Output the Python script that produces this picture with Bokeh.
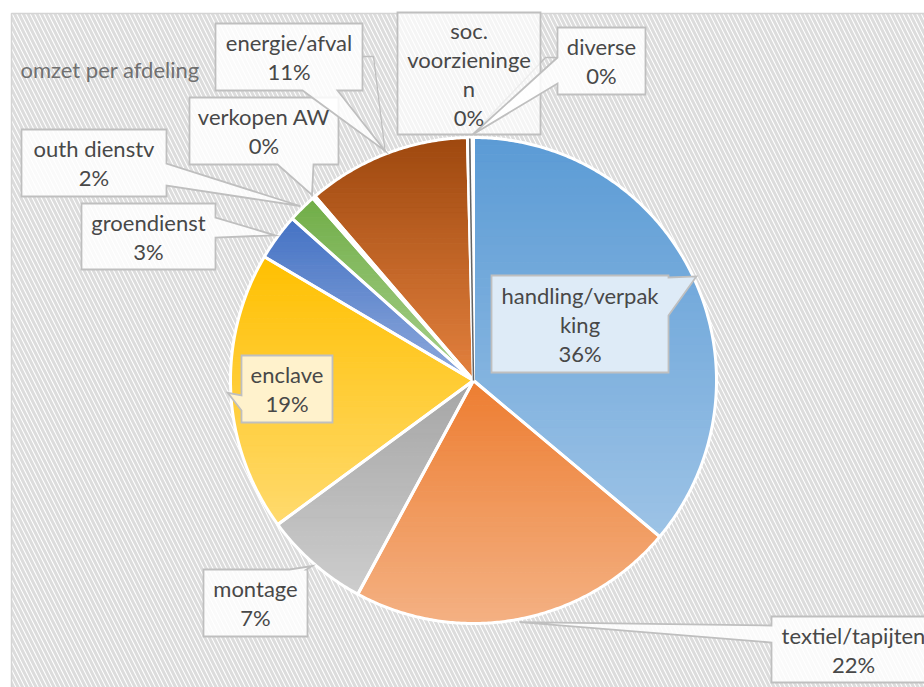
import math
from bokeh.plotting import figure
from bokeh.models import Range1d, ColumnDataSource
from bokeh.core.properties import value
from bokeh.embed import file_html
from bokeh.resources import INLINE

# ---------------- data ----------------
title_text = "omzet per afdeling"
categories = ["handling/verpakking", "textiel/tapijten", "montage", "enclave",
              "groendienst", "outh dienstv", "verkopen AW", "energie/afval",
              "soc. voorzieningen", "diverse"]
values = [36.1, 21.8, 7.0, 18.6, 3.1, 1.9, 0.2, 10.9, 0.3, 0.1]
label_lines = [["handling/verpak", "king"], ["textiel/tapijten"], ["montage"],
               ["enclave"], ["groendienst"], ["outh dienstv"], ["verkopen AW"],
               ["energie/afval"], ["soc.", "voorzieninge", "n"], ["diverse"]]
colors_top = ["#5B9BD5", "#ED7D31", "#A5A5A5", "#FFC000", "#4472C4",
              "#70AD47", "#264478", "#9E480E", "#636363", "#997300"]
colors_bottom = ["#9DC3E6", "#F4B183", "#CDCDCD", "#FFDA6E", "#8FAADC",
                 "#A9D18E", "#5B7DB8", "#E3813F", "#A0A0A0", "#C9A640"]

# ---------------- layout (pixels) ----------------
W, H = 924, 687
CX, CY, R = 473, 380, 243
TIP_R = 246
LINE_H = 29
FONT = "Lato"
FS = "22px"
TXT = "#484848"
BOX_LINE = "#bfbfbf"

# box: x0, y0, x1, y1, pointer side, base0, base1, fill, alpha, leader elbow
boxes = [
    (491, 275, 668, 372, "right", 277, 315, "#DEEBF7", 1.0, None),
    (771, 616, 940, 682, "left", 625, 642, "#FFFFFF", 0.85, None),
    (203, 569, 307, 636, "top", 289, 306, "#FFFFFF", 0.85, None),
    (241, 355, 332, 422, "left", 395, 410, "#FFF2CC", 1.0, None),
    (81, 203, 215, 269, "right", 217, 237, "#FFFFFF", 0.85, None),
    (21, 129, 166, 196, "right", 163, 185, "#FFFFFF", 0.85, None),
    (189, 97, 338, 164, "bottom", 277, 313, "#FFFFFF", 0.85, None),
    (215, 23, 362, 90, "bottom", 302, 337, "#FFFFFF", 0.85, (373, 56, 362)),
    (397, 12, 540, 134, None, 0, 0, "#FFFFFF", 0.7, None),
    (557, 27, 645, 94, "left", 57, 83, "#FFFFFF", 0.85, (545, 57, 557)),
]


def hex2rgb(h):
    h = h.lstrip("#")
    return tuple(int(h[i:i + 2], 16) for i in (0, 2, 4))


def lerp_color(a, b, t):
    ra, rb = hex2rgb(a), hex2rgb(b)
    return "#%02x%02x%02x" % tuple(int(round(ra[i] + (rb[i] - ra[i]) * t)) for i in range(3))


def pt(theta_deg, r):
    t = math.radians(theta_deg)
    return (CX + r * math.sin(t), CY - r * math.cos(t))


def clip_axis(poly, yc, keep_ge):
    out = []
    n = len(poly)
    for i in range(n):
        cur, prev = poly[i], poly[i - 1]
        cin = cur[1] >= yc if keep_ge else cur[1] <= yc
        pin = prev[1] >= yc if keep_ge else prev[1] <= yc
        if cin != pin:
            t = (yc - prev[1]) / (cur[1] - prev[1])
            out.append((prev[0] + t * (cur[0] - prev[0]), yc))
        if cin:
            out.append(cur)
    return out


total = sum(values)
fracs = [v / total for v in values]
starts, ends = [], []
acc = 0.0
for f in fracs:
    starts.append(acc * 360.0)
    acc += f
    ends.append(acc * 360.0)

p = figure(width=W, height=H, x_range=Range1d(0, W), y_range=Range1d(H, 0),
           output_backend="svg", toolbar_location=None, min_border=0)
p.axis.visible = False
p.grid.visible = False
p.outline_line_color = None
p.background_fill_color = "white"
p.border_fill_color = "white"

# chart area with diagonal hatch
p.quad(left=11, right=W + 20, top=13, bottom=H + 20, fill_color="white",
       hatch_pattern="\\", hatch_color="#dcdcdc", hatch_scale=9, hatch_weight=3,
       line_color="#d4d4d4", line_width=1.5)

# slices with vertical gradient
sx, sy, scol = [], [], []
outline_x, outline_y = [], []
for i in range(len(values)):
    a0, a1 = starts[i], ends[i]
    n = max(2, int((a1 - a0) / 0.5) + 1)
    poly = [(CX, CY)] + [pt(a0 + (a1 - a0) * k / n, R) for k in range(n + 1)]
    outline_x.append([q[0] for q in poly])
    outline_y.append([q[1] for q in poly])
    ymin = min(q[1] for q in poly)
    ymax = max(q[1] for q in poly)
    if ymax - ymin < 1:
        continue
    NS = 48
    for s in range(NS):
        lo = ymin + (ymax - ymin) * s / NS
        hi = ymin + (ymax - ymin) * (s + 1) / NS
        part = clip_axis(clip_axis(poly, lo, True), hi, False)
        if len(part) < 3:
            continue
        sx.append([q[0] for q in part])
        sy.append([q[1] for q in part])
        scol.append(lerp_color(colors_top[i], colors_bottom[i], (s + 0.5) / NS))

p.patches(xs="xs", ys="ys", fill_color="c", line_color="c", line_width=1,
          source=ColumnDataSource(dict(xs=sx, ys=sy, c=scol)))
p.patches(xs=outline_x, ys=outline_y, fill_color=None, line_color="white",
          line_width=3, line_join="round")

# thin lines for tiny slices
for i, v in enumerate(values):
    if fracs[i] < 0.005 and v >= 0.3:
        m = (starts[i] + ends[i]) / 2
        e = pt(m, R - 1)
        p.line([CX, e[0]], [CY, e[1]], line_color=colors_top[i], line_width=1.5)

# callouts
cx_list, cy_list, fills, alphas = [], [], [], []
for i, b in enumerate(boxes):
    x0, y0, x1, y1, side, b0, b1, fill, alpha, elbow = b
    m = (starts[i] + ends[i]) / 2
    tip = pt(m, TIP_R)
    poly = [(x0, y0)]
    if side == "top":
        poly += [(b0, y0), tip, (b1, y0)]
    poly.append((x1, y0))
    if side == "right":
        poly += [(x1, b0), tip, (x1, b1)]
    poly.append((x1, y1))
    if side == "bottom":
        poly += [(b1, y1), tip, (b0, y1)]
    poly.append((x0, y1))
    if side == "left":
        poly += [(x0, b1), tip, (x0, b0)]
    cx_list.append([q[0] for q in poly])
    cy_list.append([q[1] for q in poly])
    fills.append(fill)
    alphas.append(alpha)
    if elbow is not None:
        ex, ey, sxp = elbow
        p.line([sxp, ex, tip[0]], [ey, ey, tip[1]], line_color=BOX_LINE, line_width=1.3)

p.patches(xs=cx_list, ys=cy_list, fill_color=fills, fill_alpha=alphas,
          line_color=BOX_LINE, line_width=1.8, line_join="miter")

# label texts
tx, ty, tt = [], [], []
for i, b in enumerate(boxes):
    x0, y0, x1, y1 = b[:4]
    lines = label_lines[i] + ["%d%%" % round(values[i])]
    cxm = (x0 + x1) / 2.0 if i != 1 else 853
    cym = (y0 + y1) / 2.0
    nl = len(lines)
    for k, s in enumerate(lines):
        tx.append(cxm)
        ty.append(cym + (k - (nl - 1) / 2.0) * LINE_H)
        tt.append(s)
p.text(x=tx, y=ty, text=tt, text_align="center", text_baseline="middle",
       text_font=value(FONT), text_font_size=FS, text_color=TXT)

# title
p.text(x=[20], y=[69], text=[title_text], text_align="left", text_baseline="middle",
       text_font=value(FONT), text_font_size=FS, text_color="#707070")

open("out.html", "w").write(file_html(p, INLINE))
